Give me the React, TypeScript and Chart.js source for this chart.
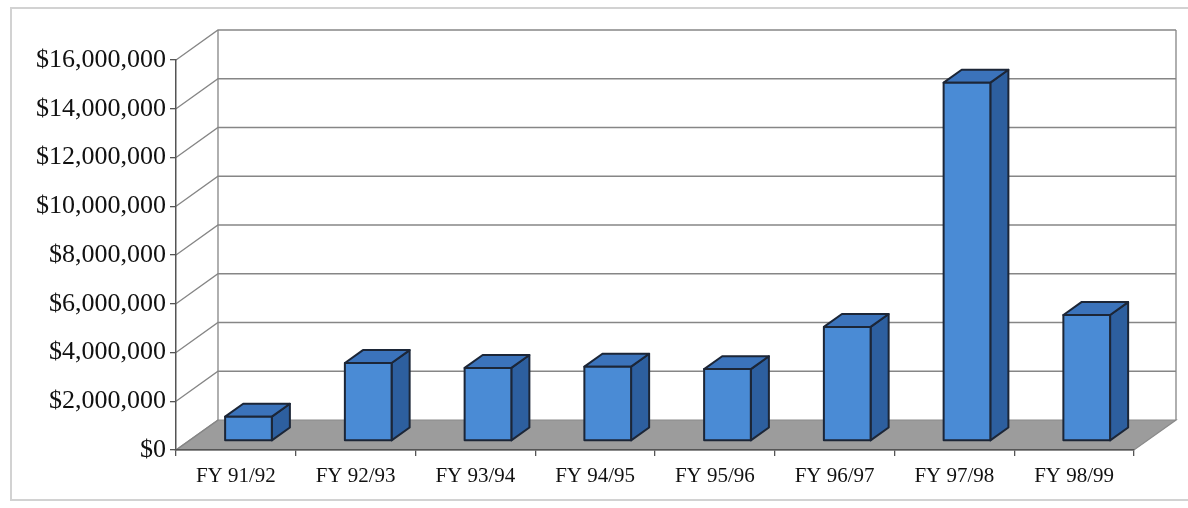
import React, { useEffect, useRef } from 'react';
import { Chart, registerables } from 'chart.js';

Chart.register(...registerables);

const categories = ['FY 91/92', 'FY 92/93', 'FY 93/94', 'FY 94/95', 'FY 95/96', 'FY 96/97', 'FY 97/98', 'FY 98/99'];
const amounts = [1000000, 3200000, 3000000, 3050000, 2950000, 4680000, 14700000, 5170000];
const yMin = 0;
const yMax = 16000000;
const yStep = 2000000;

const DX = 42;
const DY = 30;
const F1 = 0.3;
const F2 = 0.73;

const threeD = {
  id: 'threeD',
  beforeDraw(chart: any) {
    const { ctx, chartArea, scales } = chart;
    const { left, right, top, bottom } = chartArea;
    const y = scales.y;
    ctx.save();
    ctx.fillStyle = '#ffffff';
    ctx.fillRect(0, 0, chart.width, chart.height);
    // outer frame
    ctx.strokeStyle = '#d2d2d2';
    ctx.lineWidth = 2;
    ctx.strokeRect(11, 8, 1200, 492);

    // floor
    ctx.beginPath();
    ctx.moveTo(left, bottom);
    ctx.lineTo(right, bottom);
    ctx.lineTo(right + DX, bottom - DY);
    ctx.lineTo(left + DX, bottom - DY);
    ctx.closePath();
    ctx.fillStyle = '#9c9c9c';
    ctx.fill();
    ctx.strokeStyle = '#8a8a8a';
    ctx.lineWidth = 1.2;
    ctx.stroke();

    // gridlines on side and back walls
    ctx.strokeStyle = '#868686';
    ctx.lineWidth = 1.3;
    y.ticks.forEach((t: any) => {
      const py = y.getPixelForValue(t.value);
      ctx.beginPath();
      ctx.moveTo(left, py);
      ctx.lineTo(left + DX, py - DY);
      if (t.value !== 0) ctx.lineTo(right + DX, py - DY);
      ctx.stroke();
    });
    // back wall verticals
    ctx.beginPath();
    ctx.moveTo(left + DX, top - DY);
    ctx.lineTo(left + DX, bottom - DY);
    ctx.moveTo(right + DX, top - DY);
    ctx.lineTo(right + DX, bottom - DY);
    ctx.stroke();
    ctx.restore();
  },
  afterDatasetsDraw(chart: any) {
    const { ctx } = chart;
    const meta = chart.getDatasetMeta(0);
    const fx = F1 * DX;
    const fy = F1 * DY;
    const bx = (F2 - F1) * DX;
    const by = (F2 - F1) * DY;
    ctx.save();
    ctx.lineJoin = 'round';
    ctx.strokeStyle = '#1c2637';
    ctx.lineWidth = 2;
    meta.data.forEach((el: any) => {
      const p = el.getProps(['x', 'y', 'base', 'width'], true);
      const l = p.x - p.width / 2 + fx;
      const r = p.x + p.width / 2 + fx;
      const t = p.y - fy;
      const b = p.base - fy;
      // side
      ctx.beginPath();
      ctx.moveTo(r, t);
      ctx.lineTo(r + bx, t - by);
      ctx.lineTo(r + bx, b - by);
      ctx.lineTo(r, b);
      ctx.closePath();
      ctx.fillStyle = '#2d5f9f';
      ctx.fill();
      ctx.stroke();
      // top
      ctx.beginPath();
      ctx.moveTo(l, t);
      ctx.lineTo(l + bx, t - by);
      ctx.lineTo(r + bx, t - by);
      ctx.lineTo(r, t);
      ctx.closePath();
      ctx.fillStyle = '#3b73bb';
      ctx.fill();
      ctx.stroke();
      // front
      ctx.beginPath();
      ctx.rect(l, t, r - l, b - t);
      ctx.fillStyle = '#4a8bd5';
      ctx.fill();
      ctx.stroke();
    });
    ctx.restore();
  },
};

export default function App() {
  const ref = useRef<HTMLCanvasElement | null>(null);
  useEffect(() => {
    if (!ref.current) return;
    const chart = new Chart(ref.current, {
      type: 'bar',
      data: {
        labels: categories,
        datasets: [
          {
            data: amounts,
            backgroundColor: 'rgba(0,0,0,0)',
            borderWidth: 0,
            barPercentage: 0.39,
            categoryPercentage: 1,
          },
        ],
      },
      options: {
        responsive: false,
        animation: false,
        layout: { padding: { left: 0, right: 54, top: 60, bottom: 0 } },
        plugins: { legend: { display: false }, tooltip: { enabled: false } },
        scales: {
          x: {
            offset: true,
            afterFit: (s: any) => {
              s.height = 58;
            },
            grid: { offset: true, drawOnChartArea: false, drawTicks: true, tickLength: 6, color: '#555', lineWidth: 1.3 },
            border: { display: true, color: '#555', width: 1.5 },
            ticks: { padding: 8, color: '#111', font: { family: 'Liberation Serif', size: 21 } },
          },
          y: {
            min: yMin,
            max: yMax,
            afterFit: (s: any) => {
              s.width = 176;
            },
            ticks: {
              stepSize: yStep,
              padding: 4,
              color: '#111',
              font: { family: 'Liberation Serif', size: 26 },
              callback: (v: any) => '$' + Number(v).toLocaleString('en-US'),
            },
            grid: { drawOnChartArea: false, drawTicks: true, tickLength: 6, color: '#555', lineWidth: 1.3 },
            border: { display: true, color: '#555', width: 1.5 },
          },
        },
      },
      plugins: [threeD],
    });
    return () => chart.destroy();
  }, []);
  return (
    <div style={{ position: 'absolute', left: 0, top: 0, width: 1188, height: 508 }}>
      <canvas ref={ref} width={1188} height={508} style={{ display: 'block' }} />
    </div>
  );
}
